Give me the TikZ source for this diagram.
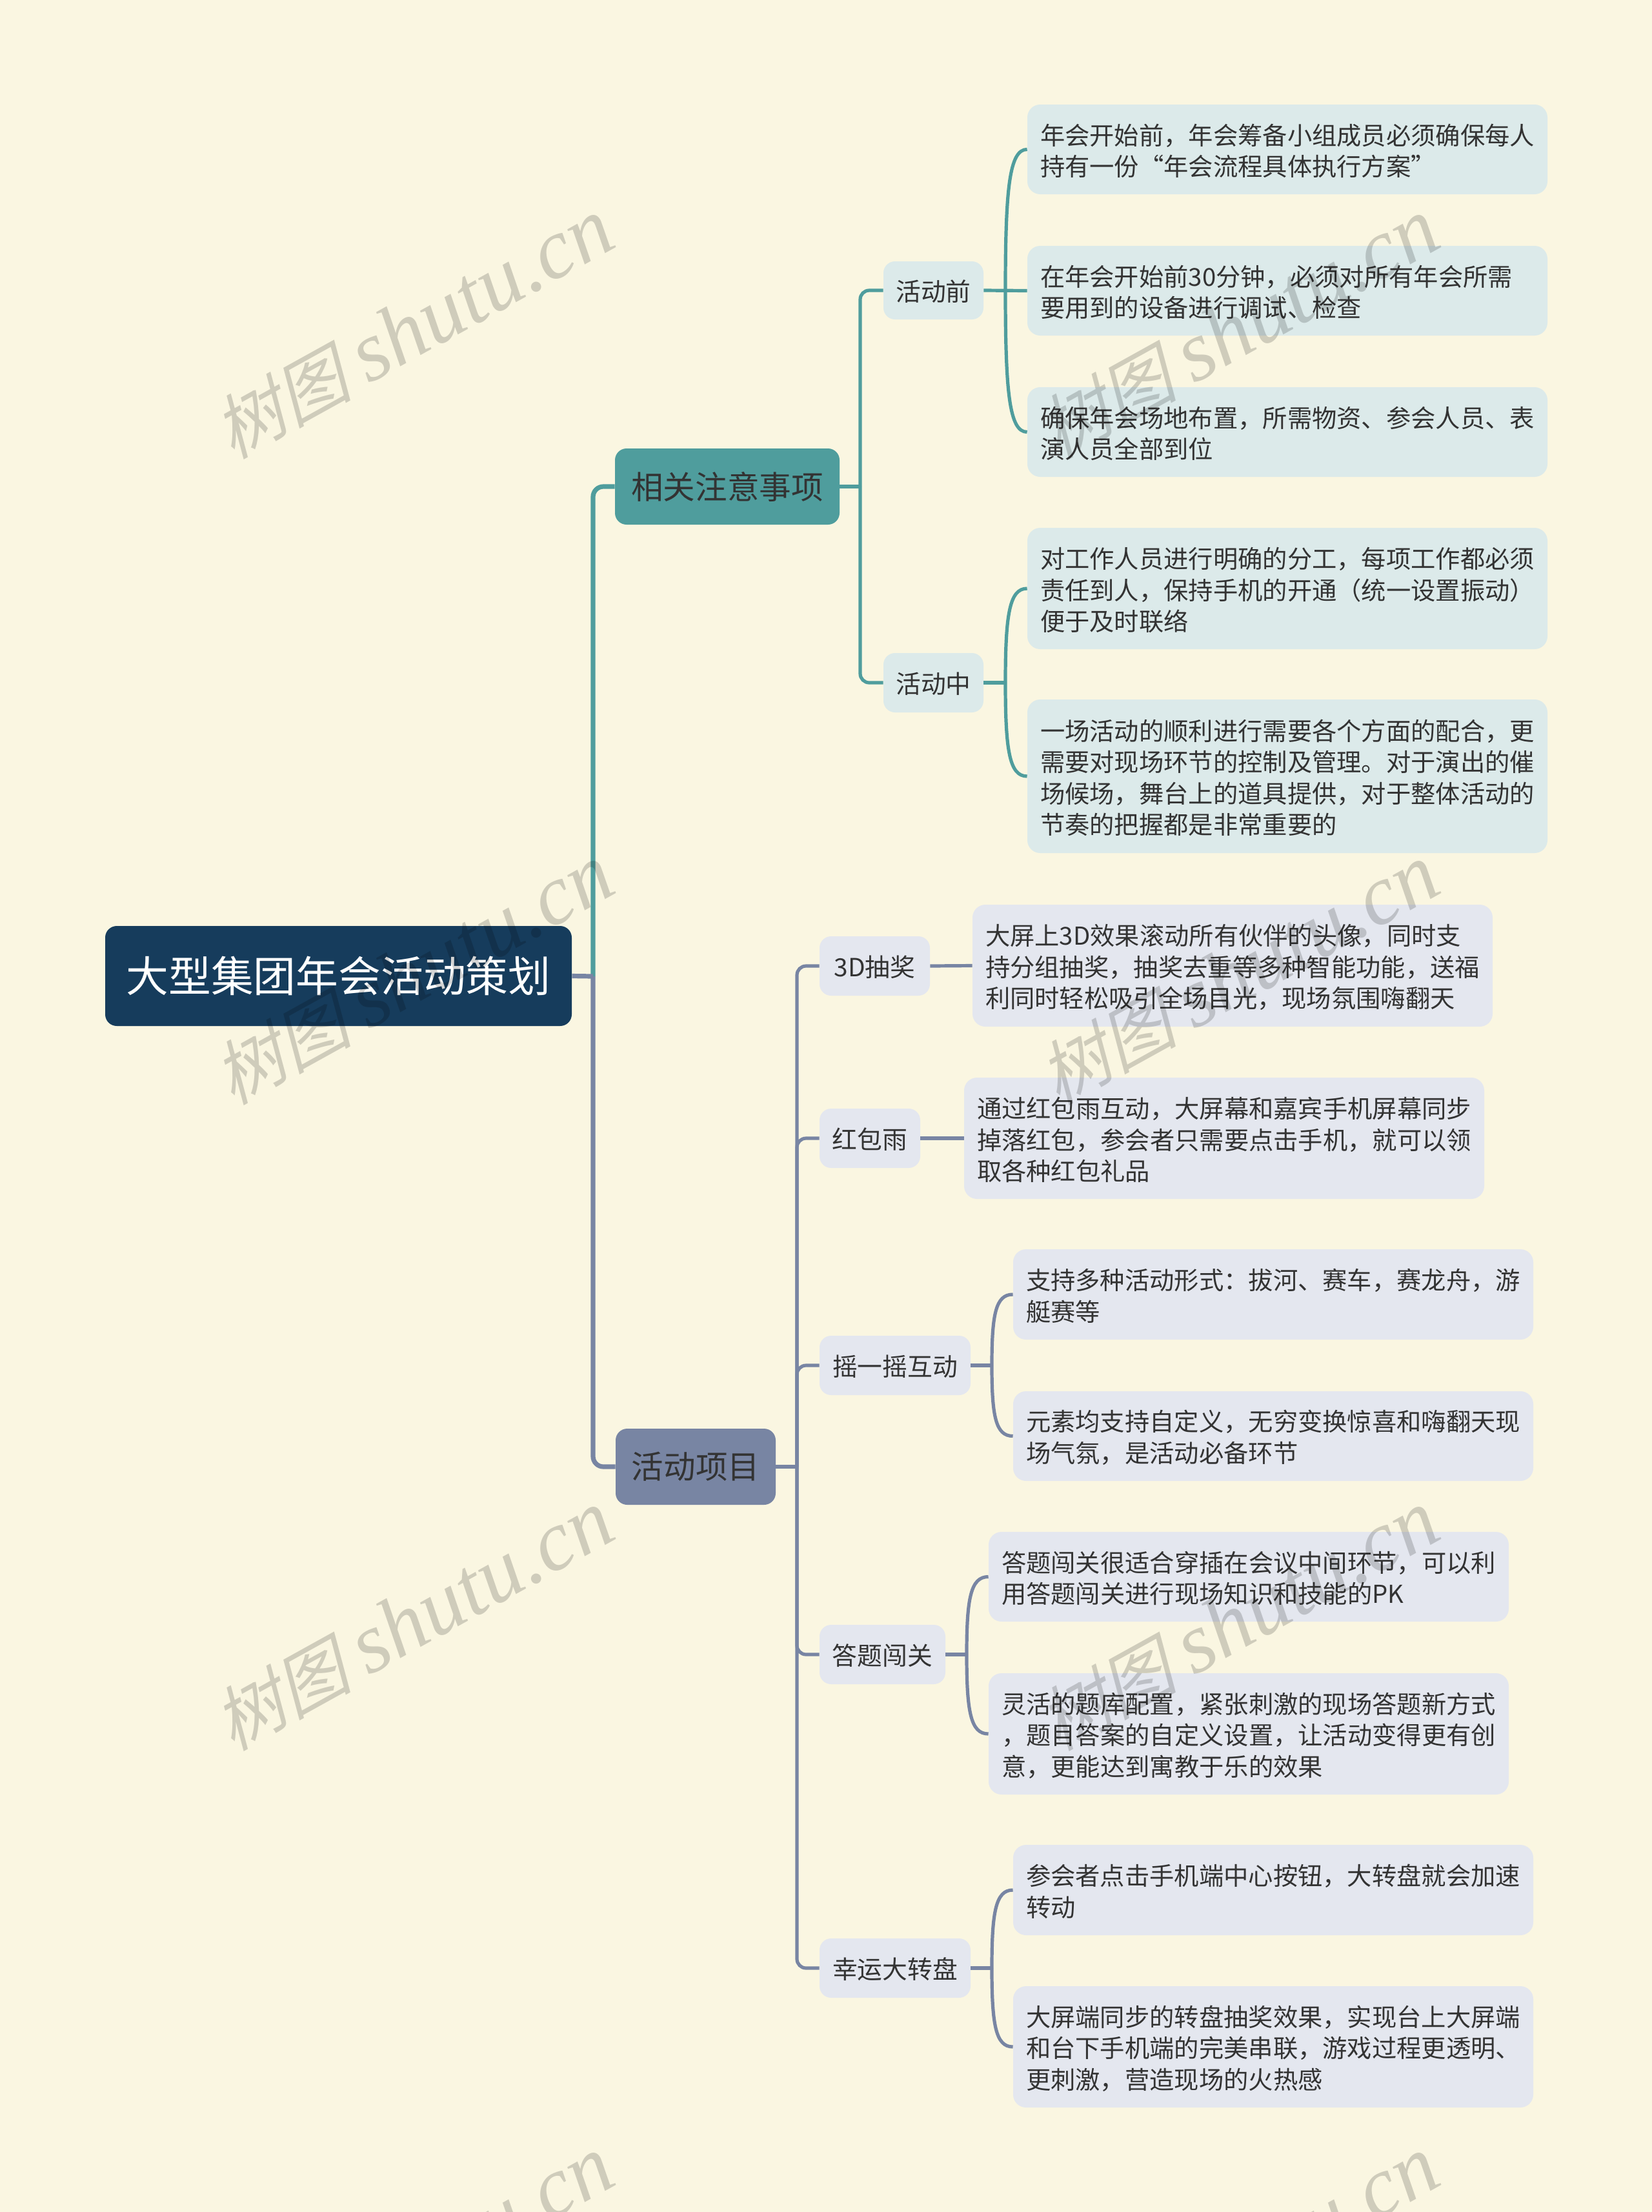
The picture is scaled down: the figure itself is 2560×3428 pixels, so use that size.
\documentclass[tikz,border=0pt]{standalone}
\usepackage{fontspec}
\setmainfont{Noto Sans CJK SC}
\newfontfamily\wmcjk[FakeSlant=0.25]{Noto Sans CJK SC}
\newfontfamily\wmlat{Liberation Serif}[ItalicFont={Liberation Serif Italic}]
\usetikzlibrary{calc}
\definecolor{pagebg}{HTML}{FAF6E1}
\definecolor{tealdk}{HTML}{4F9D9D}
\definecolor{teallt}{HTML}{DCEAEA}
\definecolor{slatedk}{HTML}{7885A3}
\definecolor{slatelt}{HTML}{E4E7EF}
\definecolor{navy}{HTML}{163C5C}
\definecolor{ink}{HTML}{333333}
\tikzset{
  x=0.5pt,y=-0.5pt,
  base/.style={inner ysep=0pt,anchor=center,text=ink},
  rootbox/.style={base,fill=navy,rounded corners=9pt,text=white,font=\fontsize{32.9}{38}\selectfont},
  maint/.style={base,fill=tealdk,rounded corners=9pt,font=\fontsize{24.8}{30}\selectfont},
  mains/.style={base,fill=slatedk,rounded corners=9pt,font=\fontsize{24.8}{30}\selectfont},
  subt/.style={base,fill=teallt,rounded corners=9pt,font=\fontsize{19.4}{24}\selectfont},
  subs/.style={base,fill=slatelt,rounded corners=9pt,font=\fontsize{19.4}{24}\selectfont},
  leaft/.style={base,fill=teallt,rounded corners=10pt,font=\fontsize{19.15}{24.2}\selectfont,align=left},
  leafs/.style={base,fill=slatelt,rounded corners=10pt,font=\fontsize{19.15}{24.2}\selectfont,align=left},
  trunk/.style={line width=3.6pt,rounded corners=8pt},
  twig/.style={line width=2.6pt,rounded corners=7pt},
  curve/.style={line width=2.6pt},
  wmark/.style={text=black,opacity=0.17,text opacity=0.17,rotate=29,inner sep=0pt,anchor=center},
}
\newcommand{\lab}[7]{\node[#6,inner xsep=0pt,minimum width={(#4-#2)*0.5pt},minimum height={(#5-#3)*0.5pt}] (#1) at ({(#2+#4)/2},{(#3+#5)/2}) {#7};}
\newcommand{\sbn}[7]{\lab{#1}{#2}{#3}{#4}{#5}{#6}{\rule{0pt}{18.2pt}#7}}
\newcommand{\lfb}[7]{\node[#6,inner xsep=10pt,text width={(#4-#2)*0.5pt-20pt},minimum height={(#5-#3)*0.5pt}] (#1) at ({(#2+#4)/2},{(#3+#5)/2}) {\rule{0pt}{18.7pt}#7};}
\newcommand{\crv}[3]{\draw[curve,#3] (#1) .. controls ($(#1)!0.72!(#1 |- #2.west)$) and ($(#2.west)!0.82!(#1 |- #2.west)$) .. (#2.west);}
\begin{document}
\begin{tikzpicture}
\useasboundingbox (0,0) rectangle (2560,3428);
\fill[pagebg] (0,0) rectangle (2560,3428);

% nodes
\lab{root}{163}{1435}{886}{1590}{rootbox}{大型集团年会活动策划}
\lab{mt}{953}{695}{1301}{813}{maint}{相关注意事项}
\lab{ms}{954}{2214}{1202}{2332}{mains}{活动项目}
\sbn{sa}{1369}{405}{1524}{495}{subt}{活动前}
\sbn{sb}{1369}{1012}{1524}{1104}{subt}{活动中}
\sbn{sc}{1270}{1451}{1441}{1543}{subs}{3D抽奖}
\sbn{sd}{1270}{1718}{1426}{1810}{subs}{红包雨}
\sbn{se}{1270}{2070}{1504}{2162}{subs}{摇一摇互动}
\sbn{sf}{1270}{2518}{1465}{2610}{subs}{答题闯关}
\sbn{sg}{1270}{3004}{1504}{3096}{subs}{幸运大转盘}

\lfb{la}{1592}{162}{2398}{301}{leaft}{年会开始前，年会筹备小组成员必须确保每人\\持有一份“年会流程具体执行方案”}
\lfb{lb}{1592}{381}{2398}{520}{leaft}{在年会开始前30分钟，必须对所有年会所需\\要用到的设备进行调试、检查}
\lfb{lc}{1592}{600}{2398}{739}{leaft}{确保年会场地布置，所需物资、参会人员、表\\演人员全部到位}
\lfb{ld}{1592}{818}{2398}{1006}{leaft}{对工作人员进行明确的分工，每项工作都必须\\责任到人，保持手机的开通（统一设置振动）\\便于及时联络}
\lfb{le}{1592}{1084}{2398}{1322}{leaft}{一场活动的顺利进行需要各个方面的配合，更\\需要对现场环节的控制及管理。对于演出的催\\场候场，舞台上的道具提供，对于整体活动的\\节奏的把握都是非常重要的}
\lfb{lf}{1507}{1402}{2313}{1591}{leafs}{大屏上3D效果滚动所有伙伴的头像，同时支\\持分组抽奖，抽奖去重等多种智能功能，送福\\利同时轻松吸引全场目光，现场氛围嗨翻天}
\lfb{lg}{1494}{1670}{2300}{1858}{leafs}{通过红包雨互动，大屏幕和嘉宾手机屏幕同步\\掉落红包，参会者只需要点击手机，就可以领\\取各种红包礼品}
\lfb{lh}{1570}{1936}{2376}{2076}{leafs}{支持多种活动形式：拔河、赛车，赛龙舟，游\\艇赛等}
\lfb{li}{1570}{2156}{2376}{2295}{leafs}{元素均支持自定义，无穷变换惊喜和嗨翻天现\\场气氛，是活动必备环节}
\lfb{lj}{1532}{2374}{2338}{2513}{leafs}{答题闯关很适合穿插在会议中间环节，可以利\\用答题闯关进行现场知识和技能的PK}
\lfb{lk}{1532}{2593}{2338}{2781}{leafs}{灵活的题库配置，紧张刺激的现场答题新方式\\，题目答案的自定义设置，让活动变得更有创\\意，更能达到寓教于乐的效果}
\lfb{ll}{1570}{2859}{2376}{2999}{leafs}{参会者点击手机端中心按钮，大转盘就会加速\\转动}
\lfb{lm}{1570}{3078}{2376}{3266}{leafs}{大屏端同步的转盘抽奖效果，实现台上大屏端\\和台下手机端的完美串联，游戏过程更透明、\\更刺激，营造现场的火热感}

% junctions
\coordinate (jr) at (919,1513);
\coordinate (jt) at (1333,754);
\coordinate (js) at (1235,2273);
\coordinate (ja) at (1558,450);
\coordinate (jb) at (1558,1058);
\coordinate (je) at (1537,2116);
\coordinate (jf) at (1498,2564);
\coordinate (jg) at (1537,3050);

% connectors
\draw[trunk,tealdk] (jr) |- (mt.west);
\draw[trunk,slatedk] (jr) |- (ms.west);
\draw[trunk,slatedk,rounded corners=0pt] (root.east) -- (jr);
\draw[twig,tealdk] (mt.east) -- (jt);
\draw[twig,tealdk] (jt) |- (sa.west);
\draw[twig,tealdk] (jt) |- (sb.west);
\draw[twig,slatedk] (ms.east) -- (js);
\draw[twig,slatedk] (js) |- (sc.west);
\draw[twig,slatedk] (js) |- (sd.west);
\draw[twig,slatedk] (js) |- (se.west);
\draw[twig,slatedk] (js) |- (sf.west);
\draw[twig,slatedk] (js) |- (sg.west);

\draw[curve,tealdk] (sa.east) -- (lb.west);
\crv{ja}{la}{tealdk}
\crv{ja}{lc}{tealdk}
\draw[curve,tealdk] (sb.east) -- (jb);
\crv{jb}{ld}{tealdk}
\crv{jb}{le}{tealdk}
\draw[curve,slatedk] (sc.east) -- (lf.west);
\draw[curve,slatedk] (sd.east) -- (lg.west);
\draw[curve,slatedk] (se.east) -- (je);
\crv{je}{lh}{slatedk}
\crv{je}{li}{slatedk}
\draw[curve,slatedk] (sf.east) -- (jf);
\crv{jf}{lj}{slatedk}
\crv{jf}{lk}{slatedk}
\draw[curve,slatedk] (sg.east) -- (jg);
\crv{jg}{ll}{slatedk}
\crv{jg}{lm}{slatedk}

% watermarks
\begin{scope}
\clip (0,0) rectangle (2560,3428);
\foreach \cx/\col in {640/a,1919/b}
  \foreach \cy/\row in {510/p,1511/q,2512/r,3513/s}
    \node[wmark] (wm\col\row) at (\cx,\cy) {{\fontsize{54}{60}\selectfont\wmcjk 树图}\hspace{13pt}{\fontsize{66}{70}\selectfont\wmlat\itshape shutu.cn}};
\end{scope}
\end{tikzpicture}
\end{document}
